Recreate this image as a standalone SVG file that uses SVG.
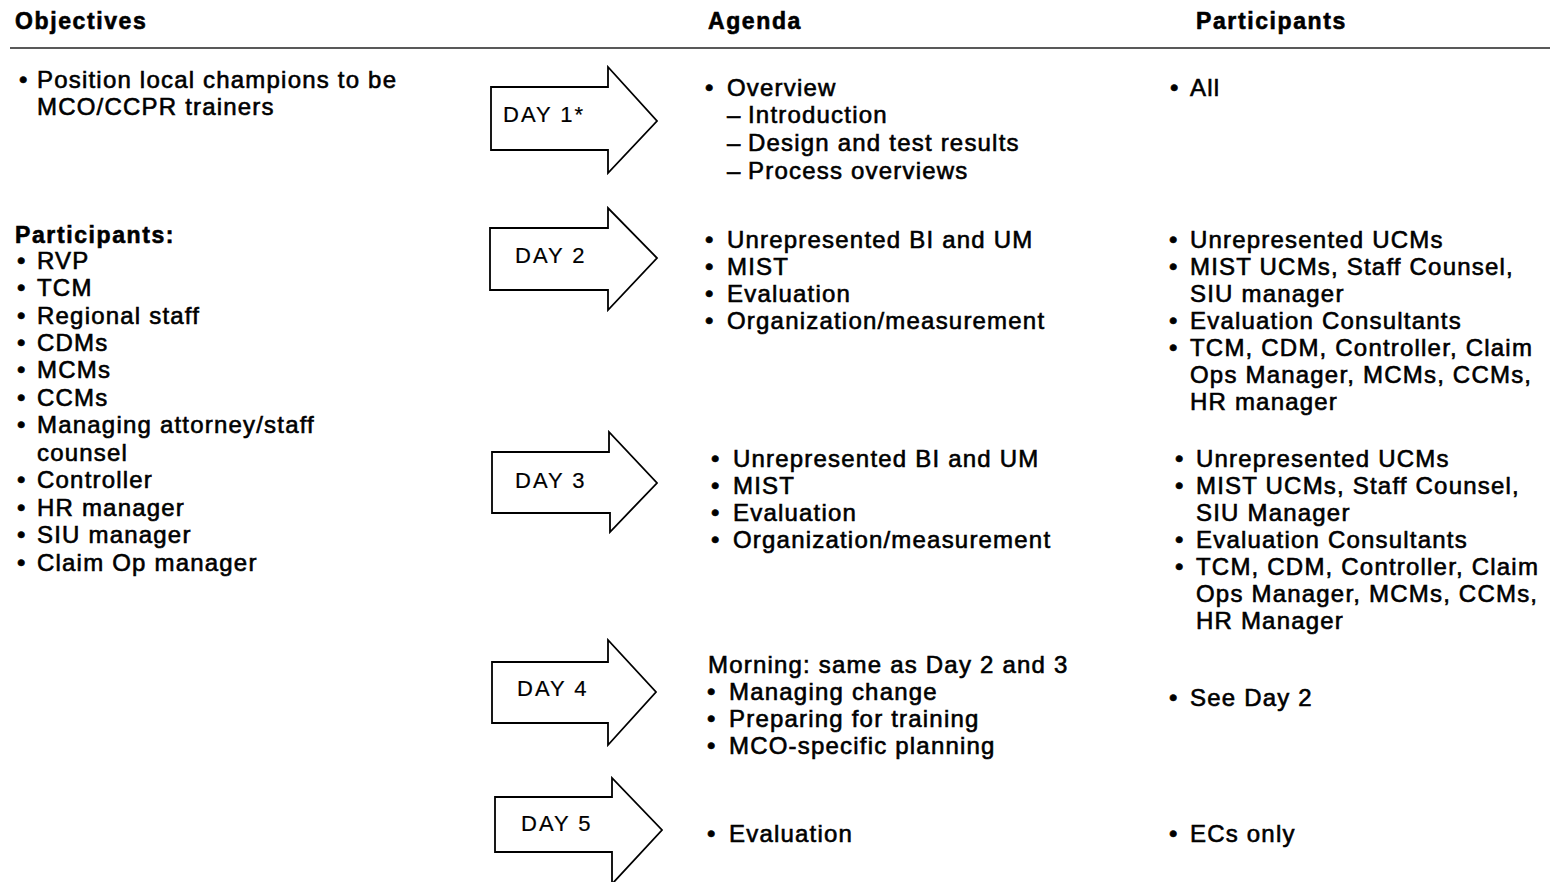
<svg xmlns="http://www.w3.org/2000/svg" width="1550" height="882" viewBox="0 0 1550 882">
<style>
text{font-family:"Liberation Sans",Arial,sans-serif;font-size:24px;fill:#000;letter-spacing:1.2px;stroke:#000;stroke-width:0.6px}
.h{font-weight:bold;font-size:23px;letter-spacing:1.6px;stroke-width:0.6px}
.d{font-size:22px;letter-spacing:2px;stroke-width:0.2px}
.arrow{fill:#fff;stroke:#000;stroke-width:1.8;stroke-linejoin:miter}
</style>
<rect width="1550" height="882" fill="#fff"/>
<g id="headers">
<text class="h" x="15" y="29">Objectives</text>
<text class="h" x="708" y="29">Agenda</text>
<text class="h" x="1196" y="29">Participants</text>
<line x1="10" y1="48" x2="1550" y2="48" stroke="#222" stroke-width="1.6"/>
</g>
<g id="objectives">
<text x="19" y="88">•</text><text x="37" y="88">Position local champions to be</text>
<text x="37" y="115">MCO/CCPR trainers</text>
<text class="h" x="15" y="243">Participants:</text>
<text x="17" y="269">•</text><text x="37" y="269">RVP</text>
<text x="17" y="296">•</text><text x="37" y="296">TCM</text>
<text x="17" y="324">•</text><text x="37" y="324">Regional staff</text>
<text x="17" y="351">•</text><text x="37" y="351">CDMs</text>
<text x="17" y="378">•</text><text x="37" y="378">MCMs</text>
<text x="17" y="406">•</text><text x="37" y="406">CCMs</text>
<text x="17" y="433">•</text><text x="37" y="433">Managing attorney/staff</text>
<text x="37" y="461">counsel</text>
<text x="17" y="488">•</text><text x="37" y="488">Controller</text>
<text x="17" y="516">•</text><text x="37" y="516">HR manager</text>
<text x="17" y="543">•</text><text x="37" y="543">SIU manager</text>
<text x="17" y="571">•</text><text x="37" y="571">Claim Op manager</text>
</g>
<g id="day1">
<polygon class="arrow" points="491,87 608,87 608,67 657,121 608,173 608,150 491,150"/>
<text class="d" x="503" y="122">DAY 1*</text>
</g>
<g id="day2">
<polygon class="arrow" points="490,228 608,228 608,208 657,258 608,310 608,290 490,290"/>
<text class="d" x="515" y="263">DAY 2</text>
</g>
<g id="day3">
<polygon class="arrow" points="492,452 609,452 609,432 657,483 610,532 610,513 492,513"/>
<text class="d" x="515" y="488">DAY 3</text>
</g>
<g id="day4">
<polygon class="arrow" points="492,662 608,662 608,640 656,692 608,745 608,723 492,723"/>
<text class="d" x="517" y="696">DAY 4</text>
</g>
<g id="day5">
<polygon class="arrow" points="495,797 612,797 612,778 662,830 612,884 612,852 495,852"/>
<text class="d" x="521" y="831">DAY 5</text>
</g>
<g id="agenda">
<text x="705" y="96">•</text><text x="727" y="96">Overview</text>
<text x="727" y="123">–</text><text x="748" y="123">Introduction</text>
<text x="727" y="151">–</text><text x="748" y="151">Design and test results</text>
<text x="727" y="179">–</text><text x="748" y="179">Process overviews</text>

<text x="705" y="248">•</text><text x="727" y="248">Unrepresented BI and UM</text>
<text x="705" y="275">•</text><text x="727" y="275">MIST</text>
<text x="705" y="302">•</text><text x="727" y="302">Evaluation</text>
<text x="705" y="329">•</text><text x="727" y="329">Organization/measurement</text>

<text x="711" y="467">•</text><text x="733" y="467">Unrepresented BI and UM</text>
<text x="711" y="494">•</text><text x="733" y="494">MIST</text>
<text x="711" y="521">•</text><text x="733" y="521">Evaluation</text>
<text x="711" y="548">•</text><text x="733" y="548">Organization/measurement</text>

<text x="708" y="673">Morning:  same as Day 2 and 3</text>
<text x="707" y="700">•</text><text x="729" y="700">Managing change</text>
<text x="707" y="727">•</text><text x="729" y="727">Preparing for training</text>
<text x="707" y="754">•</text><text x="729" y="754">MCO-specific planning</text>

<text x="707" y="842">•</text><text x="729" y="842">Evaluation</text>
</g>
<g id="participants">
<text x="1170" y="96">•</text><text x="1190" y="96">All</text>

<text x="1169" y="248">•</text><text x="1190" y="248">Unrepresented UCMs</text>
<text x="1169" y="275">•</text><text x="1190" y="275">MIST UCMs, Staff Counsel,</text>
<text x="1190" y="302">SIU manager</text>
<text x="1169" y="329">•</text><text x="1190" y="329">Evaluation Consultants</text>
<text x="1169" y="356">•</text><text x="1190" y="356">TCM, CDM, Controller, Claim</text>
<text x="1190" y="383">Ops Manager, MCMs, CCMs,</text>
<text x="1190" y="410">HR manager</text>

<text x="1175" y="467">•</text><text x="1196" y="467">Unrepresented UCMs</text>
<text x="1175" y="494">•</text><text x="1196" y="494">MIST UCMs, Staff Counsel,</text>
<text x="1196" y="521">SIU Manager</text>
<text x="1175" y="548">•</text><text x="1196" y="548">Evaluation Consultants</text>
<text x="1175" y="575">•</text><text x="1196" y="575">TCM, CDM, Controller, Claim</text>
<text x="1196" y="602">Ops Manager, MCMs, CCMs,</text>
<text x="1196" y="629">HR Manager</text>

<text x="1169" y="706">•</text><text x="1190" y="706">See Day 2</text>

<text x="1169" y="842">•</text><text x="1190" y="842">ECs only</text>
</g>
</svg>
